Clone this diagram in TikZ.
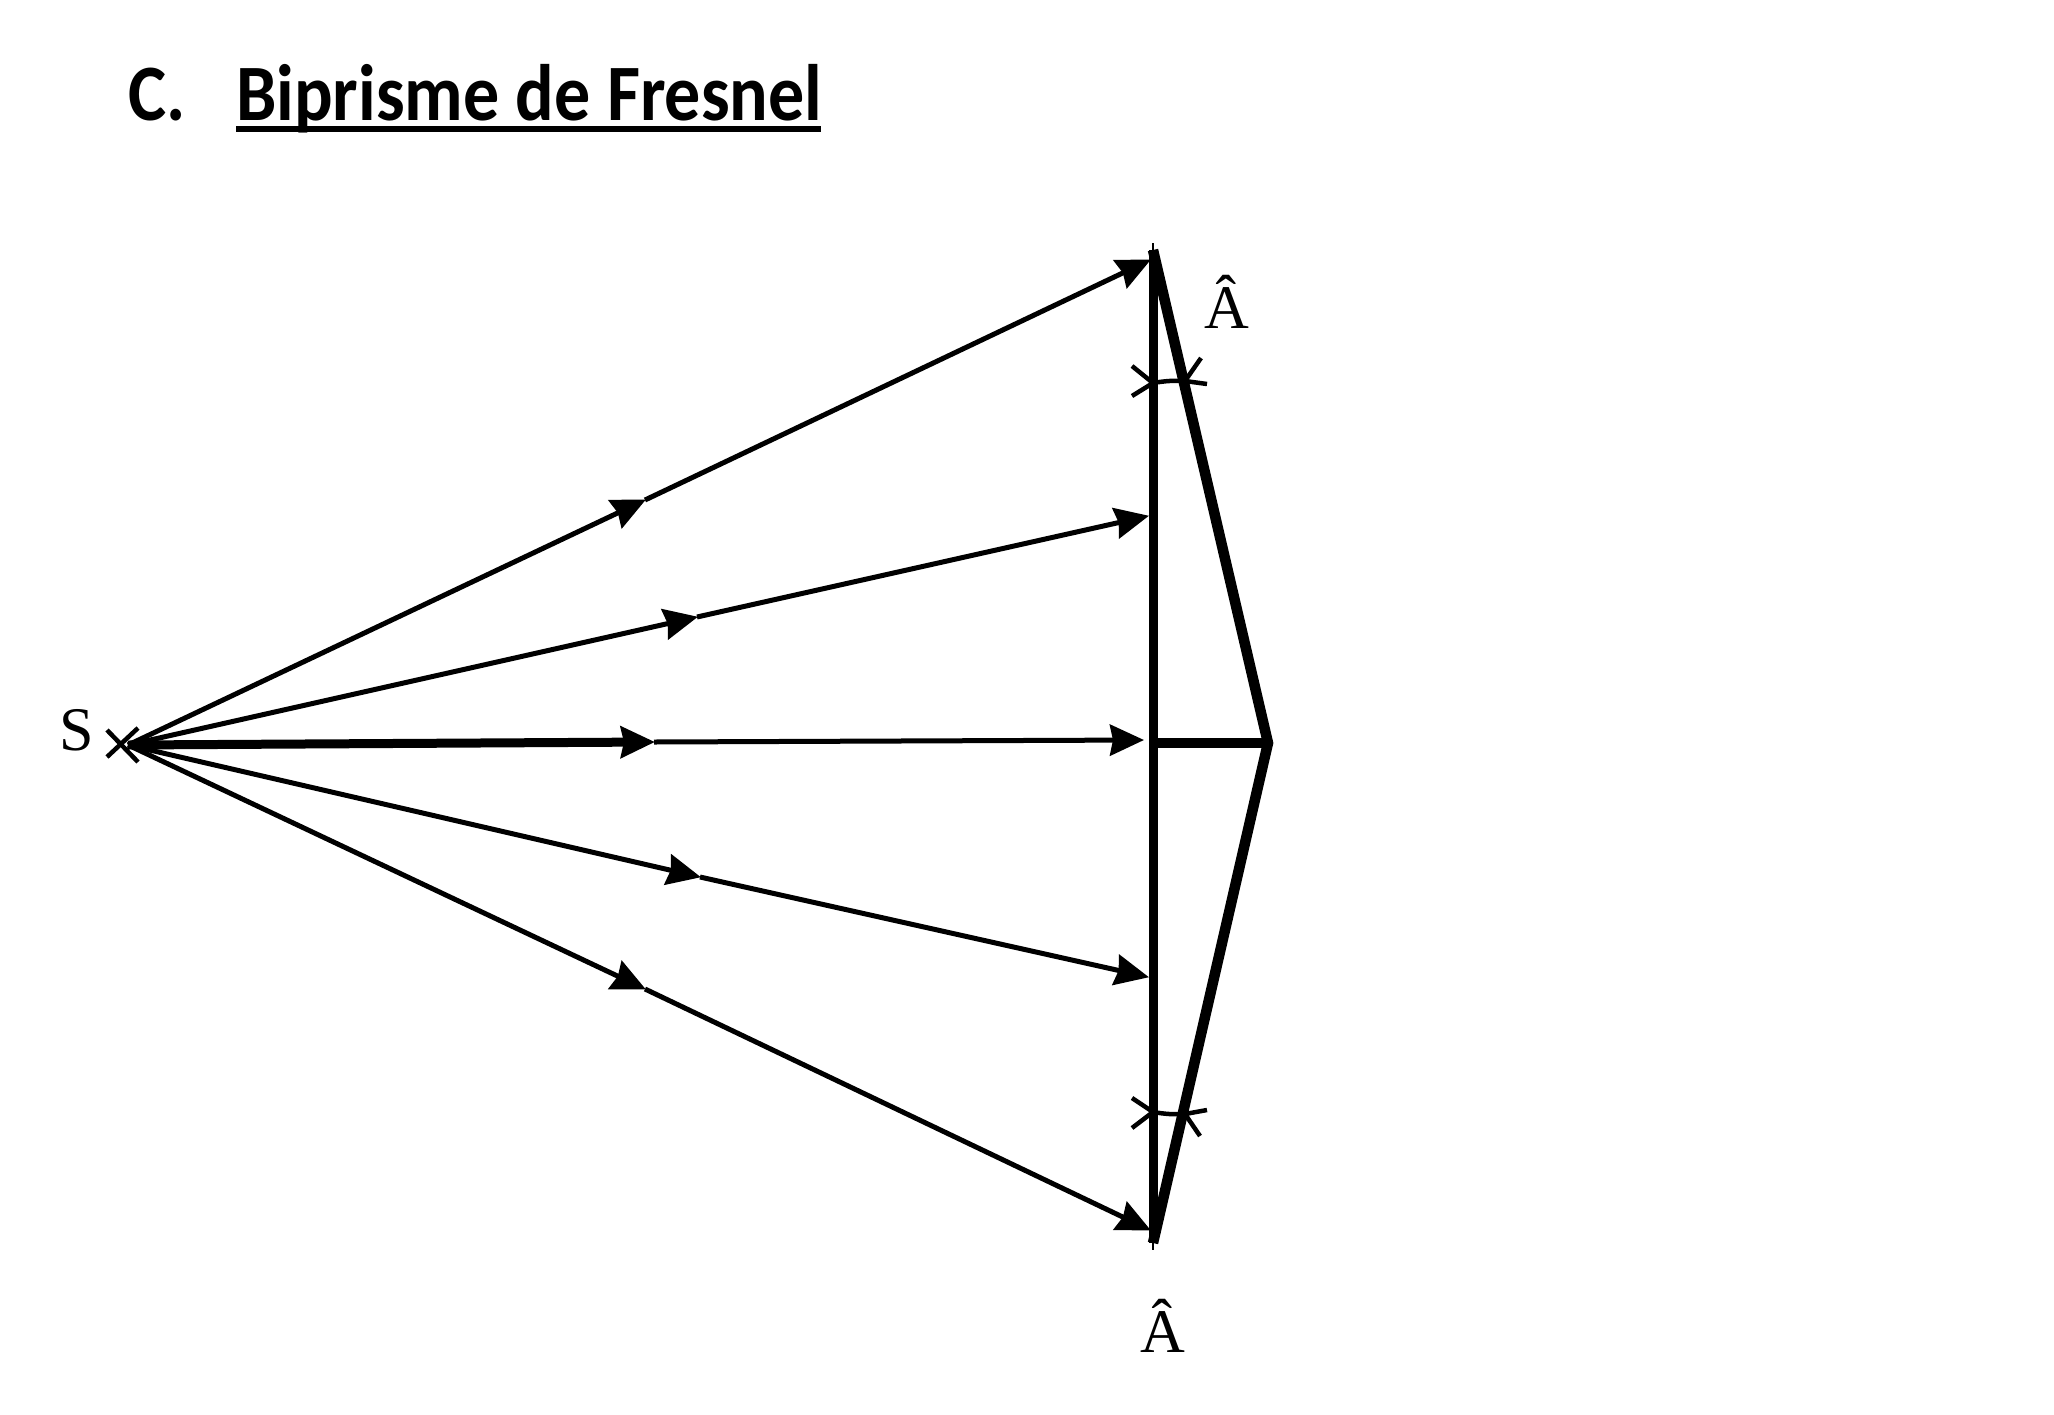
\documentclass[tikz,border=0pt]{standalone}
\usepackage{fontspec}
\setmainfont{Liberation Serif}
\newfontfamily\titlefont{Carlito}
\usetikzlibrary{arrows.meta}
\tikzset{
  ray/.style={line width=5pt,-{Stealth[length=34pt,width=31pt,inset=3pt]},shorten >=-1pt},
  prism/.style={line width=10.5pt,line join=miter,miter limit=20},
  tick/.style={line width=4.5pt},
  lab/.style={font=\fontsize{62}{62}\selectfont,inner sep=0pt,anchor=base,text=black},
  ttl/.style={font=\titlefont\bfseries\fontsize{80}{80}\selectfont,inner sep=0pt,anchor=base west}
}
\begin{document}
\begin{tikzpicture}[x=1pt,y=-1pt]
\useasboundingbox (0,0) rectangle (2054,1414);
% key points
\coordinate (S) at (128,745);
\coordinate (t1) at (1150,260);
\coordinate (t2) at (1148,516);
\coordinate (t3) at (1143,740);
\coordinate (t4) at (1148,977);
\coordinate (t5) at (1150,1230);
\coordinate (m1) at (645,500);
\coordinate (m2) at (697,617);
\coordinate (m3) at (654,742);
\coordinate (m4) at (700,877);
\coordinate (m5) at (645,989);
\coordinate (Vt) at (1153,250);
\coordinate (Vb) at (1153,1243);
\coordinate (Mid) at (1153,743);
\coordinate (P2) at (1268,743);
% titles and labels
\node[ttl,xscale=.9] (c) at (128,120) {C.};
\node[ttl,xscale=.9] (title) at (236,120) {Biprisme de Fresnel};
\coordinate (u1) at (236,129);
\coordinate (u2) at (821,129);
\draw[line width=6pt] (u1) -- (u2);
\node[lab] (a1) at (1227,328) {Â};
\node[lab] (a2) at (1163,1352) {Â};
\node[lab] (s) at (77,750) {S};
% rays
\draw[ray] (S) -- (m1);
\draw[ray] (m1) -- (t1);
\draw[ray] (S) -- (m2);
\draw[ray] (m2) -- (t2);
\draw[ray,line width=9pt] (S) -- (m3);
\draw[ray] (m3) -- (t3);
\draw[ray] (S) -- (m4);
\draw[ray] (m4) -- (t4);
\draw[ray] (S) -- (m5);
\draw[ray] (m5) -- (t5);
% biprism
\coordinate (Vtt) at (1153,243);
\coordinate (Vbb) at (1153,1250);
\draw[line width=9pt] (Vt) -- (Vb);
\draw[line width=2pt] (Vtt) -- (Vbb);
\draw[prism] (Vt) -- (P2) -- (Vb);
\draw[prism] (Mid) -- (P2);
% angle marks
\coordinate (al) at (1153,383);
\coordinate (ar) at (1185,381);
\draw[tick] (al) to[bend left=6] (ar);
\draw[tick] (1132,366) -- (al) -- (1132,396);
\draw[tick] (1201,358) -- (ar) -- (1207,384);
\coordinate (bl) at (1153,1112);
\coordinate (br) at (1185,1114);
\draw[tick] (bl) to[bend right=6] (br);
\draw[tick] (1132,1098) -- (bl) -- (1132,1128);
\draw[tick] (1207,1110) -- (br) -- (1200,1136);
% source cross
\coordinate (c1) at (107,730);
\coordinate (c2) at (138,762);
\coordinate (c3) at (107,757);
\coordinate (c4) at (138,728);
\draw[tick] (c1) -- (c2);
\draw[tick] (c3) -- (c4);
\end{tikzpicture}
\end{document}
